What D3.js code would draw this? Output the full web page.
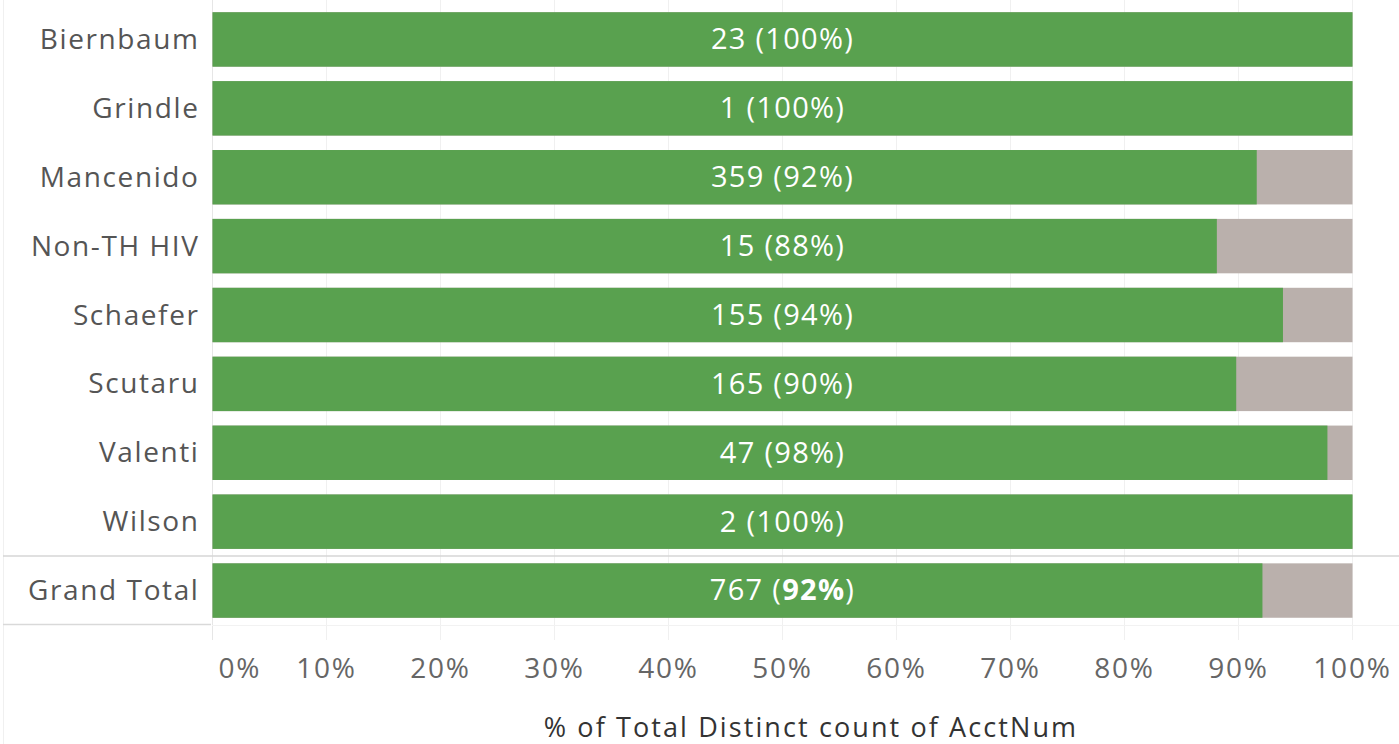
<!DOCTYPE html>
<html>
<head>
    <meta charset="utf-8">
    <title>% of Total Distinct count of AcctNum</title>
    <style>
        body { margin: 0; background: #fff; }
        svg { display: block; font-family: "Open Sans", sans-serif; }
    </style>
</head>
<body>
    <svg id="chart" width="1399" height="744"></svg>
    <script src="https://cdn.jsdelivr.net/npm/d3@7"></script>
    <script>
        // data
        var names = ["Biernbaum", "Grindle", "Mancenido", "Non-TH HIV", "Schaefer",
                     "Scutaru", "Valenti", "Wilson", "Grand Total"];
        var counts = [23, 1, 359, 15, 155, 165, 47, 2, 767];
        var shares = [1.0, 1.0, 0.916, 0.881, 0.939, 0.898, 0.978, 1.0, 0.921];
        var ticks = [0, 0.1, 0.2, 0.3, 0.4, 0.5, 0.6, 0.7, 0.8, 0.9, 1.0];
        var axisTitle = "% of Total Distinct count of AcctNum";

        var svg = d3.select("#chart");

        var x = d3.scaleLinear().domain([0, 1]).range([212.5, 1352.5]);
        var y = d3.scaleBand().domain(names).range([5, 625]).paddingInner(0.21).paddingOuter(0.105);

        // header pane left border
        svg.append("line")
           .attr("x1", 3.5).attr("x2", 3.5).attr("y1", 0).attr("y2", 744)
           .attr("stroke", "#f0f0f0");

        // gridlines
        svg.append("g").selectAll("line")
           .data(ticks)
           .enter().append("line")
           .attr("x1", function(d) { return x(d); })
           .attr("x2", function(d) { return x(d); })
           .attr("y1", 0).attr("y2", 640)
           .attr("stroke", function(d) { return d === 0 ? "#e6e6e6" : "#f0f0f0"; })
           .attr("stroke-width", 1);

        svg.append("line")
           .attr("x1", 212).attr("x2", 1399).attr("y1", 625.5).attr("y2", 625.5)
           .attr("stroke", "#f2f2f2");

        // bars: green part and grey remainder
        var rows = svg.append("g").selectAll("g")
           .data(names)
           .enter().append("g");

        rows.append("rect")
           .attr("x", x(0))
           .attr("y", function(d) { return y(d); })
           .attr("width", x(1) - x(0))
           .attr("height", y.bandwidth())
           .attr("fill", "#bab0ac");

        rows.append("rect")
           .attr("x", x(0))
           .attr("y", function(d) { return y(d); })
           .attr("width", function(d, i) { return x(shares[i]) - x(0); })
           .attr("height", y.bandwidth())
           .attr("fill", "#59a14f");

        // labels inside bars
        var lab = rows.append("text")
           .attr("x", (x(0) + x(1)) / 2)
           .attr("y", function(d) { return y(d) + y.bandwidth() / 2; })
           .attr("dy", "0.34em")
           .attr("text-anchor", "middle")
           .attr("fill", "#ffffff")
           .style("font-size", "29px")
           .style("letter-spacing", "1.3px");
        lab.append("tspan").text(function(d, i) { return counts[i] + " ("; });
        lab.append("tspan")
           .style("font-weight", function(d) { return d === "Grand Total" ? "bold" : "normal"; })
           .text(function(d, i) { return Math.round(shares[i] * 100) + "%"; });
        lab.append("tspan").text(")");

        // row headers
        svg.append("g").selectAll("text")
           .data(names)
           .enter().append("text")
           .attr("x", 199.5)
           .attr("y", function(d) { return y(d) + y.bandwidth() / 2; })
           .attr("dy", "0.34em")
           .attr("text-anchor", "end")
           .attr("fill", "#555")
           .style("font-size", "28px")
           .style("letter-spacing", "1.6px")
           .text(function(d) { return d; });

        // separators around Grand Total
        var sepY = y("Grand Total") - y.step() * y.paddingInner() / 2;
        svg.append("line")
           .attr("x1", 3).attr("x2", 1399).attr("y1", sepY).attr("y2", sepY)
           .attr("stroke", "#d6d6d6").attr("stroke-width", 1.5);
        svg.append("line")
           .attr("x1", 3).attr("x2", 211).attr("y1", 624.5).attr("y2", 624.5)
           .attr("stroke", "#d9d9d9").attr("stroke-width", 1.5);

        // x axis tick labels
        svg.append("g").selectAll("text")
           .data(ticks)
           .enter().append("text")
           .attr("x", function(d) { return d === 0 ? x(0) + 6 : x(d); })
           .attr("y", 678)
           .attr("text-anchor", function(d) { return d === 0 ? "start" : "middle"; })
           .attr("fill", "#666")
           .style("font-size", "28px")
           .style("letter-spacing", "1.8px")
           .text(function(d) { return Math.round(d * 100) + "%"; });

        svg.append("text")
           .attr("x", 811)
           .attr("y", 737)
           .attr("text-anchor", "middle")
           .attr("fill", "#333")
           .style("font-size", "27px")
           .style("letter-spacing", "2.1px")
           .text(axisTitle);
    </script>
</body>
</html>
